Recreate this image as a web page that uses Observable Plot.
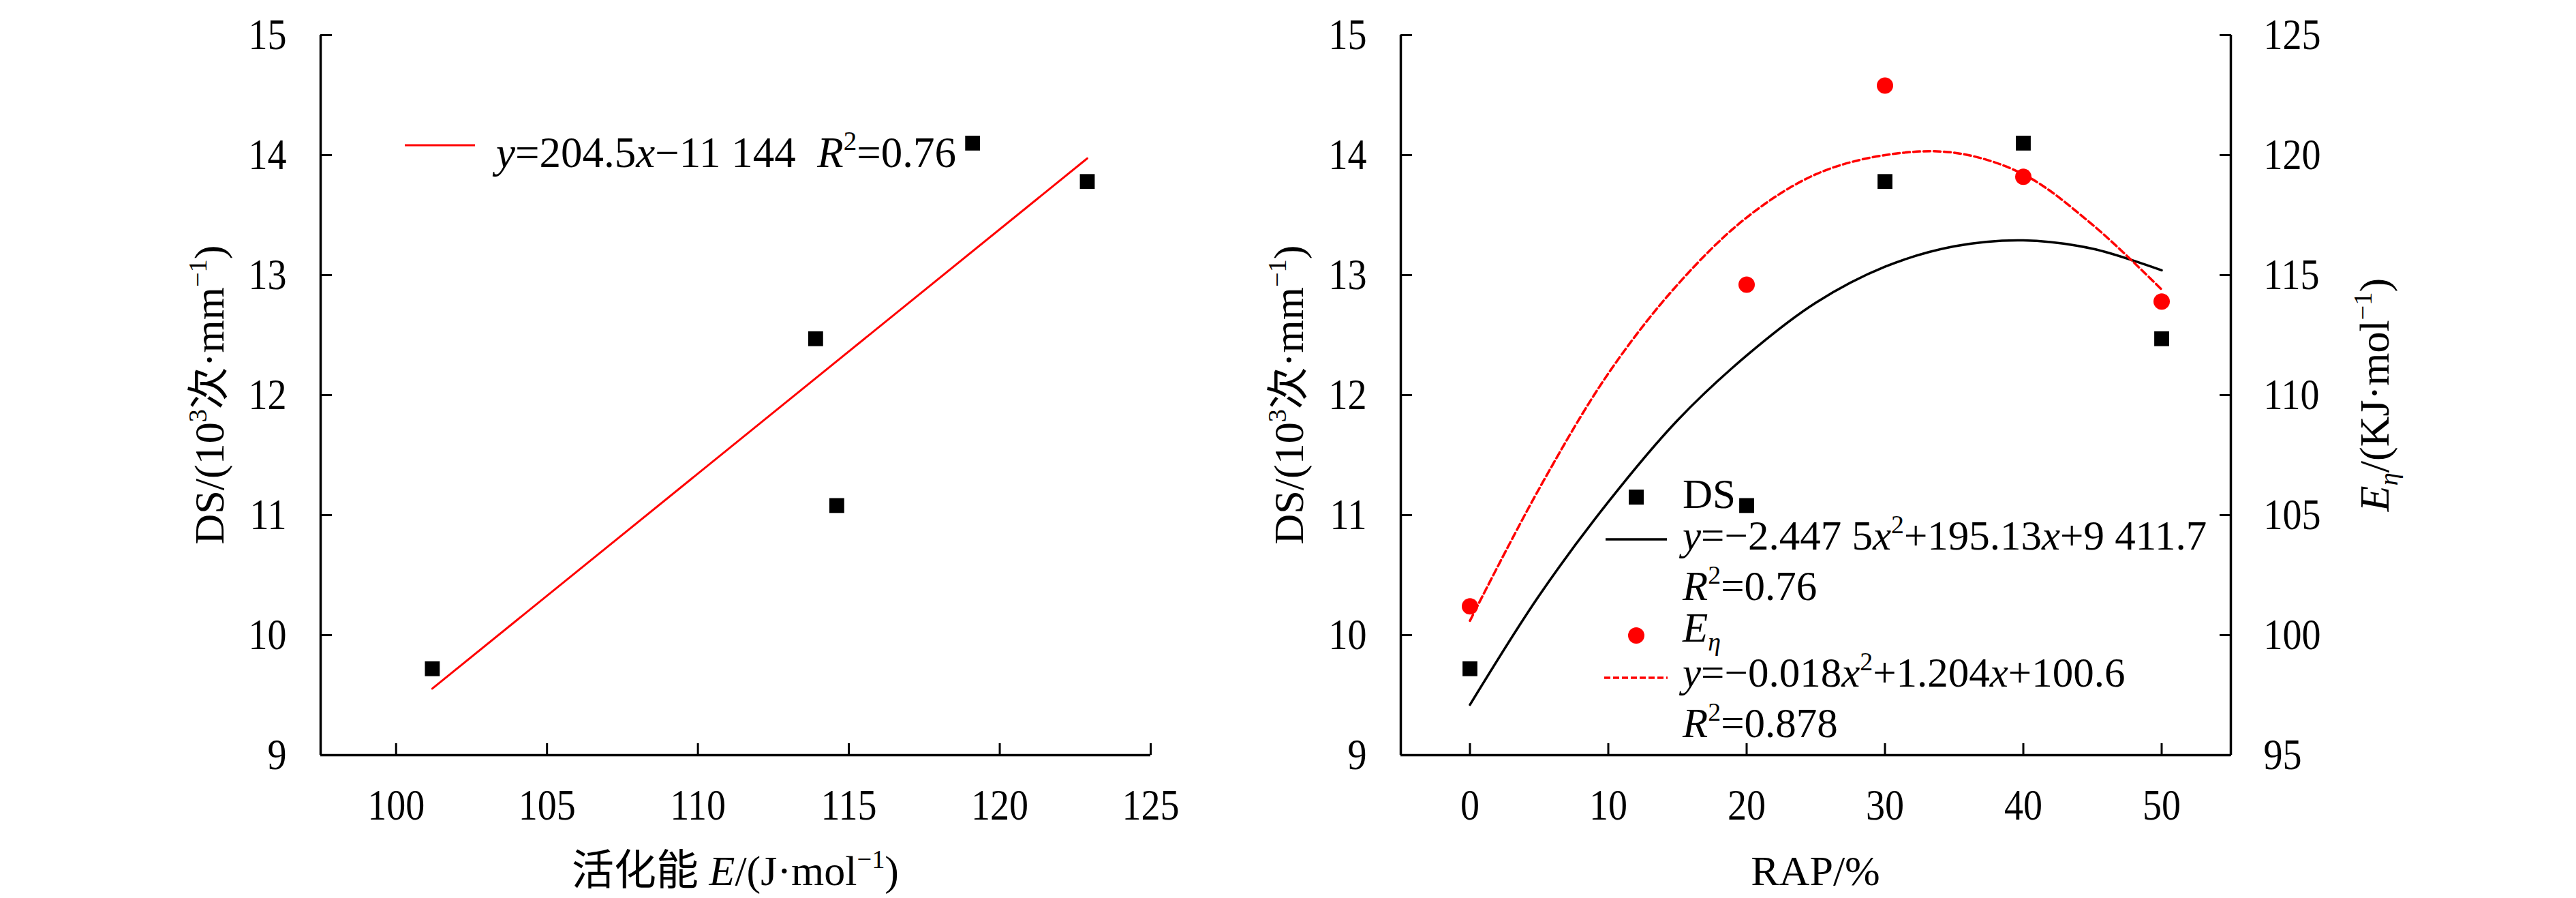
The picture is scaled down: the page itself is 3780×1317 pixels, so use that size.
<!DOCTYPE html>
<html><head><meta charset="utf-8">
<script src="https://cdn.jsdelivr.net/npm/d3@7"></script>
<script src="https://cdn.jsdelivr.net/npm/@observablehq/plot@0.6"></script>
<style>
html,body{margin:0;padding:0;background:#fff;}
#wrap{position:relative;width:3780px;height:1317px;overflow:hidden;background:#fff;}
#wrap svg{position:absolute;top:0;max-width:none;}
</style></head><body><div id="wrap"></div>
<script>
// ---- data ----
const RAP = [0, 20, 30, 40, 50];                       // RAP content, %
const DS = [9.72, 11.08, 13.78, 14.10, 12.47];         // DS, 10^3 cycles/mm
const E_eta = [101.2, 114.6, 122.9, 119.1, 113.9];     // activation energy
// trend curves as drawn in the figure
const fitX = [0, 5, 10, 15, 20, 25, 30, 35, 40, 45, 50];
const dsFit = [9.42, 10.33, 11.11, 11.79, 12.33, 12.77, 13.07, 13.24, 13.29, 13.22, 13.04];
const eFit = [100.6, 106.1, 110.9, 114.6, 117.4, 119.2, 120.0, 120.1, 119.2, 117.1, 114.4];
// ticks
const xTicksE = [100, 105, 110, 115, 120, 125];
const yTicksDS = [9, 10, 11, 12, 13, 14, 15];
const xTicksRAP = [0, 10, 20, 30, 40, 50];
const yTicksE = [95, 100, 105, 110, 115, 120, 125];
// texts
const legLeft = [{t:"y",i:1},{t:"=204.5"},{t:"x",i:1},{t:"−11 144  "},{t:"R",i:1},{t:"2",sup:1},{t:"=0.76"}];
const legDS = [{t:"DS"}];
const legDSeq = [{t:"y",i:1},{t:"=−2.447 5"},{t:"x",i:1},{t:"2",sup:1},{t:"+195.13"},{t:"x",i:1},{t:"+9 411.7"}];
const legDSr2 = [{t:"R",i:1},{t:"2",sup:1},{t:"=0.76"}];
const legE = [{t:"E",i:1},{t:"η",i:1,sub:1}];
const legEeq = [{t:"y",i:1},{t:"=−0.018"},{t:"x",i:1},{t:"2",sup:1},{t:"+1.204"},{t:"x",i:1},{t:"+100.6"}];
const legEr2 = [{t:"R",i:1},{t:"2",sup:1},{t:"=0.878"}];
const titleDS = [{t:"DS/(10"},{t:"3",sup:1},{t:"次·mm"},{t:"−1",sup:1},{t:")"}];
const titleEact = [{t:"活化能 "},{t:"E",i:1},{t:"/(J·mol"},{t:"−1",sup:1},{t:")"}];
const titleRAP = [{t:"RAP/%"}];
const titleEeta = [{t:"E",i:1},{t:"η",i:1,sub:1},{t:"/(KJ·mol"},{t:"−1",sup:1},{t:")"}];

// ---- style ----
const FONT = '"Liberation Serif","Times New Roman","Noto Sans CJK SC",serif';
const FS = 61, TFS = 62, TICKFS = 63, TICKSX = 0.89;
const H = 1317, MT = 51, MB = 210;
const AXW = 3.5, TICKW = 3, TICK = -17;
const RED = "#ff0000";
const fmt = d => String(d);
const styleBase = {fontFamily: FONT, fontSize: TICKFS + "px", background: "transparent", overflow: "visible", color: "#000"};

const wrap = document.getElementById("wrap");

function rich(svg, x, y, segs, opts = {}) {
  const {anchor = "start", rotate = 0, size = FS} = opts;
  const t = d3.select(svg).append("text")
    .attr("transform", `translate(${x},${y})` + (rotate ? ` rotate(${rotate})` : ""))
    .attr("text-anchor", anchor)
    .attr("font-family", FONT).attr("font-size", size).attr("fill", "#000")
    .style("white-space", "pre");
  if (opts.dy) t.attr("dy", opts.dy);
  let shift = 0;
  for (const s of segs) {
    const target = s.sup ? -0.4 * size : s.sub ? 0.22 * size : 0;
    const ts = t.append("tspan").text(s.t);
    if (target !== shift) ts.attr("dy", target - shift);
    shift = target;
    if (s.i) ts.attr("font-style", "italic");
    if (s.sup || s.sub) ts.attr("font-size", size * 0.62);
  }
  return t;
}
// condense the tick labels horizontally, like the reference's narrow digits
function condenseTicks(svg) {
  d3.select(svg).selectAll('g[aria-label$="tick label"] text').each(function () {
    const el = this;
    let tr = el.getAttribute("transform");
    if (!tr) {
      const x = +(el.getAttribute("x") || 0), y = +(el.getAttribute("y") || 0);
      el.removeAttribute("x"); el.removeAttribute("y");
      tr = `translate(${x},${y})`;
    }
    el.setAttribute("transform", tr + ` scale(${TICKSX},1)`);
  });
}

// ---- left chart: DS vs activation energy ----
const leftPts = E_eta.map((e, i) => ({E: e, DS: DS[i]}));
const LW = 1780, LML = 470, LMR = 92;
const left = Plot.plot({
  width: LW, height: H, marginLeft: LML, marginRight: LMR, marginTop: MT, marginBottom: MB,
  style: styleBase,
  x: {domain: [97.5, 125], label: null},
  y: {domain: [9, 15], label: null},
  marks: [
    Plot.axisX(xTicksE, {tickSize: TICK, strokeWidth: TICKW, fill: "none", label: null}),
    Plot.axisX(xTicksE, {tickSize: 0, tickPadding: 50, tickFormat: fmt, label: null}),
    Plot.axisY(yTicksDS, {tickSize: TICK, strokeWidth: TICKW, fill: "none", label: null}),
    Plot.axisY(yTicksDS, {tickSize: 0, tickPadding: 50, tickFormat: fmt, label: null}),
    Plot.ruleX([97.5], {stroke: "#000", strokeWidth: AXW}),
    Plot.ruleY([9], {stroke: "#000", strokeWidth: AXW}),
    Plot.linearRegressionY(leftPts, {x: "E", y: "DS", ci: 0, stroke: RED, strokeWidth: 3}),
    Plot.dot(leftPts, {x: "E", y: "DS", symbol: "square", r: 12.3, fill: "#000"})
  ]
});
left.style.left = "0px";
wrap.appendChild(left);
condenseTicks(left);
// legend & titles (layout positions)
d3.select(left).append("line").attr("x1", 594).attr("x2", 697).attr("y1", 213).attr("y2", 213)
  .attr("stroke", RED).attr("stroke-width", 3);
rich(left, 728, 245, legLeft, {size: 63});
rich(left, LML + (LW - LML - LMR) / 2, 1298, titleEact, {anchor: "middle", size: TFS});
rich(left, 306, MT + (H - MT - MB) / 2, titleDS, {anchor: "middle", rotate: -90, size: TFS, dy: "0.35em"});

// ---- right chart: DS and E_eta vs RAP ----
const RX = 1780, RW = 2000, RML = 275, RMR = 507;
const dsPts = RAP.map((r, i) => ({RAP: r, v: DS[i]}));
const ePts = RAP.map((r, i) => ({RAP: r, v: E_eta[i]}));
const dsCurve = fitX.map((r, i) => ({RAP: r, v: dsFit[i]}));
const eCurve = fitX.map((r, i) => ({RAP: r, v: eFit[i]}));

const rightDS = Plot.plot({
  width: RW, height: H, marginLeft: RML, marginRight: RMR, marginTop: MT, marginBottom: MB,
  style: styleBase,
  x: {domain: [-5, 55], label: null},
  y: {domain: [9, 15], label: null},
  marks: [
    Plot.axisX(xTicksRAP, {tickSize: TICK, strokeWidth: TICKW, fill: "none", label: null}),
    Plot.axisX(xTicksRAP, {tickSize: 0, tickPadding: 50, tickFormat: fmt, label: null}),
    Plot.axisY(yTicksDS, {tickSize: TICK, strokeWidth: TICKW, fill: "none", label: null}),
    Plot.axisY(yTicksDS, {tickSize: 0, tickPadding: 50, tickFormat: fmt, label: null}),
    Plot.ruleX([-5, 55], {stroke: "#000", strokeWidth: AXW}),
    Plot.ruleY([9], {stroke: "#000", strokeWidth: AXW}),
    Plot.line(dsCurve, {x: "RAP", y: "v", curve: "catmull-rom", stroke: "#000", strokeWidth: 3.5}),
    Plot.dot(dsPts, {x: "RAP", y: "v", symbol: "square", r: 12.3, fill: "#000"})
  ]
});
rightDS.style.left = RX + "px";
wrap.appendChild(rightDS);
condenseTicks(rightDS);

const rightE = Plot.plot({
  width: RW, height: H, marginLeft: RML, marginRight: RMR, marginTop: MT, marginBottom: MB,
  style: styleBase,
  x: {domain: [-5, 55], label: null, axis: null},
  y: {domain: [95, 125], label: null},
  marks: [
    Plot.axisY(yTicksE, {anchor: "right", tickSize: TICK, strokeWidth: TICKW, fill: "none", label: null}),
    Plot.axisY(yTicksE, {anchor: "right", tickSize: 0, tickPadding: 48, tickFormat: fmt, label: null}),
    Plot.line(eCurve, {x: "RAP", y: "v", curve: "catmull-rom", stroke: RED, strokeWidth: 3.5, strokeDasharray: "10,5"}),
    Plot.dot(ePts, {x: "RAP", y: "v", r: 12, fill: RED})
  ]
});
rightE.style.left = RX + "px";
wrap.appendChild(rightE);
condenseTicks(rightE);

// legend for right chart
const g = d3.select(rightE);
const sq = 22;
g.append("rect").attr("x", 621 - sq / 2).attr("y", 729 - sq / 2).attr("width", sq).attr("height", sq).attr("fill", "#000");
g.append("line").attr("x1", 576).attr("x2", 666).attr("y1", 791).attr("y2", 791).attr("stroke", "#000").attr("stroke-width", 3.5);
g.append("circle").attr("cx", 621).attr("cy", 932).attr("r", 12).attr("fill", RED);
g.append("line").attr("x1", 574).attr("x2", 667).attr("y1", 994).attr("y2", 994).attr("stroke", RED).attr("stroke-width", 3.5).attr("stroke-dasharray", "9,4");
rich(rightE, 689, 745, legDS);
rich(rightE, 689, 806, legDSeq);
rich(rightE, 689, 880, legDSr2);
rich(rightE, 689, 941, legE);
rich(rightE, 689, 1007, legEeq);
rich(rightE, 689, 1081, legEr2);
// titles
rich(rightE, RML + (RW - RML - RMR) / 2, 1298, titleRAP, {anchor: "middle", size: TFS});
rich(rightE, 110, MT + (H - MT - MB) / 2, titleDS, {anchor: "middle", rotate: -90, size: TFS, dy: "0.35em"});
rich(rightE, 1703, MT + (H - MT - MB) / 2, titleEeta, {anchor: "middle", rotate: -90, size: TFS, dy: "0.35em"});
</script></body></html>
